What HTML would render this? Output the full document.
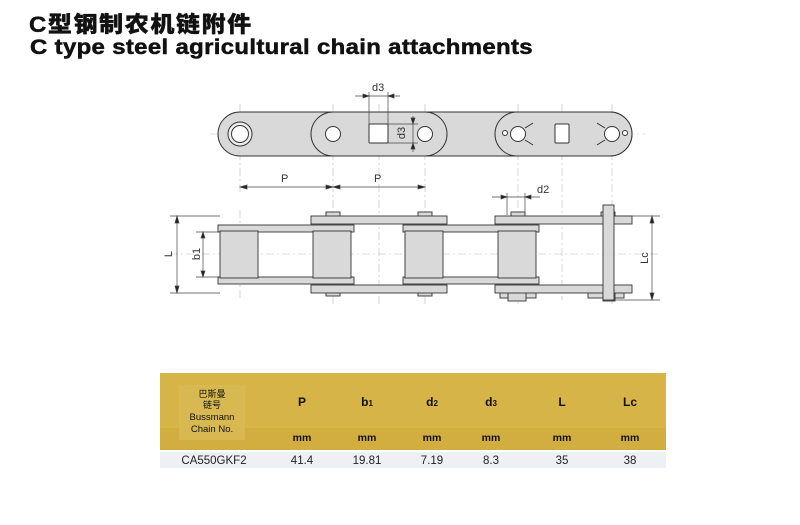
<!DOCTYPE html>
<html><head><meta charset="utf-8"><style>
body{margin:0;background:#fff;width:800px;height:525px;overflow:hidden;position:relative;font-family:"Liberation Sans","Noto Sans CJK SC",sans-serif}
.t1{position:absolute;left:29px;top:6px;font-size:24px;font-weight:900;color:#111;letter-spacing:1.6px;-webkit-text-stroke:0.4px #111;transform-origin:0 0;transform:scaleY(0.92)}
.t2{position:absolute;left:30px;top:36px;font-size:21px;font-weight:bold;color:#111;letter-spacing:0.3px;transform-origin:0 0;transform:scaleX(1.14);white-space:nowrap;-webkit-text-stroke:0.5px #111}
svg{position:absolute;left:0;top:0}
</style></head><body>
<div class="t1">C型钢制农机链附件</div>
<div class="t2">C type steel agricultural chain attachments</div>
<svg width="800" height="525" viewBox="0 0 800 525" font-family="Liberation Sans, sans-serif">
<g stroke="#bbb" stroke-width="0.6" stroke-dasharray="8 3 2 3" fill="none">
<line x1="210" y1="134" x2="645" y2="134"/>
<line x1="170" y1="254" x2="660" y2="254"/>
<line x1="240" y1="104" x2="240" y2="195"/><line x1="333" y1="104" x2="333" y2="305"/>
<line x1="425" y1="104" x2="425" y2="305"/><line x1="379" y1="104" x2="379" y2="305"/>
<line x1="518" y1="104" x2="518" y2="305"/><line x1="612" y1="104" x2="612" y2="305"/>
<line x1="240" y1="210" x2="240" y2="300"/><line x1="562" y1="104" x2="562" y2="300"/>
</g>
<g stroke="#333" stroke-width="1" fill="#d9d9d9">
<rect x="218" y="112" width="414" height="44" rx="22"/>
<rect x="311" y="112" width="136" height="44" rx="22"/>
<rect x="495" y="112" width="137" height="44" rx="22"/>
<circle cx="240" cy="134" r="12" fill="#eee"/><circle cx="240" cy="134" r="8.5" fill="#fff"/>
<circle cx="333" cy="134" r="7.5" fill="#fff"/><circle cx="425" cy="134" r="7.5" fill="#fff"/>
<rect x="369" y="124" width="19" height="19" fill="#fff" rx="1"/>
<rect x="555" y="124" width="14" height="19" fill="#fff" rx="1"/>
<circle cx="518" cy="134" r="7.5" fill="#fff"/><circle cx="612" cy="134" r="7.5" fill="#fff"/>
<circle cx="505" cy="133" r="2.5" fill="#fff"/><circle cx="625" cy="133" r="2.5" fill="#fff"/>
<path d="M525 128 q5 -3 8 -5 M525 140 q5 3 8 5 M605 128 q-5 -3 -8 -5 M605 140 q-5 3 -8 5" fill="none"/>
</g>
<g stroke="#444" stroke-width="0.7" fill="#222">
<line x1="369" y1="92" x2="369" y2="124"/><line x1="388" y1="92" x2="388" y2="124"/>
<line x1="355" y1="96" x2="400" y2="96"/>
<path d="M369 96 l-6 -2 v4z M388 96 l6 -2 v4z"/>
<line x1="388" y1="124" x2="418" y2="124"/><line x1="388" y1="143" x2="418" y2="143"/>
<line x1="413" y1="116" x2="413" y2="152"/>
<path d="M413 124 l-2 -6 h4z M413 143 l-2 6 h4z"/>
<line x1="240" y1="187" x2="425" y2="187"/>
<path d="M240 187 l7 -2 v4z M333 187 l-7 -2 v4z M333 187 l7 -2 v4z M425 187 l-7 -2 v4z"/>
<line x1="507" y1="193" x2="507" y2="215"/><line x1="525" y1="193" x2="525" y2="215"/>
<line x1="492" y1="197" x2="540" y2="197"/>
<path d="M507 197 l-6 -2 v4z M525 197 l6 -2 v4z"/>
<line x1="170" y1="216" x2="220" y2="216"/><line x1="170" y1="293" x2="220" y2="293"/>
<line x1="177" y1="216" x2="177" y2="293"/><path d="M177 216 l-2 7 h4z M177 293 l-2 -7 h4z"/>
<line x1="196" y1="232" x2="220" y2="232"/><line x1="196" y1="277" x2="220" y2="277"/>
<line x1="203" y1="232" x2="203" y2="277"/><path d="M203 232 l-2 6 h4z M203 277 l-2 -6 h4z"/>
<line x1="615" y1="216" x2="660" y2="216"/><line x1="615" y1="300" x2="660" y2="300"/>
<line x1="652" y1="216" x2="652" y2="300"/><path d="M652 216 l-2 7 h4z M652 300 l-2 -7 h4z"/>
</g>
<g font-size="11" fill="#333">
<text x="372" y="91">d3</text><text x="281" y="182">P</text><text x="374" y="182">P</text>
<text x="537" y="193">d2</text>
<text transform="translate(405,133) rotate(-90)" text-anchor="middle">d3</text>
<text transform="translate(172,254) rotate(-90)" text-anchor="middle">L</text>
<text transform="translate(200,254) rotate(-90)" text-anchor="middle">b1</text>
<text transform="translate(648,258) rotate(-90)" text-anchor="middle">Lc</text>
</g>
<g stroke="#333" stroke-width="0.9" fill="#d9d9d9">
<rect x="326" y="212" width="14" height="5"/><rect x="418" y="212" width="14" height="5"/><rect x="511" y="212" width="14" height="5"/><rect x="601" y="212" width="14" height="5"/>
<rect x="326" y="291" width="14" height="5"/><rect x="418" y="291" width="14" height="5"/>
<rect x="500" y="291" width="36" height="7"/><rect x="508" y="291" width="18" height="10"/>
<rect x="588" y="291" width="36" height="7"/><rect x="603" y="291" width="12" height="10"/>
<rect x="311" y="216" width="136" height="8"/><rect x="495" y="216" width="137" height="8"/>
<rect x="311" y="285" width="136" height="8"/><rect x="495" y="285" width="137" height="8"/>
<rect x="218" y="225" width="136" height="7"/><rect x="403" y="225" width="136" height="7"/>
<rect x="218" y="277" width="136" height="7"/><rect x="403" y="277" width="136" height="7"/>
<rect x="220" y="231" width="38" height="47"/><rect x="313" y="231" width="38" height="47"/>
<rect x="405" y="231" width="38" height="47"/><rect x="498" y="231" width="38" height="47"/>
<rect x="603" y="205" width="11" height="95"/>
</g>
<rect x="160" y="373" width="506" height="77" fill="#d2ad40"/>
<rect x="160" y="373" width="506" height="55" fill="#d6b448"/>
<rect x="179" y="385" width="66" height="55" fill="#d8b850"/>
<rect x="160" y="452" width="506" height="16" fill="#eef0f3"/>
<g font-size="12" fill="#111" text-anchor="middle" font-weight="bold">
<text x="212" y="397" font-size="9" font-weight="normal">巴斯曼</text><text x="212" y="408" font-size="9" font-weight="normal">链号</text>
<text x="212" y="420" font-size="9.5" font-weight="normal">Bussmann</text><text x="212" y="432" font-size="9.5" font-weight="normal">Chain No.</text>
<text x="302" y="406">P</text><text x="367" y="406">b<tspan font-size="8">1</tspan></text>
<text x="432" y="406">d<tspan font-size="8">2</tspan></text><text x="491" y="406">d<tspan font-size="8">3</tspan></text>
<text x="562" y="406">L</text><text x="630" y="406">Lc</text>
<g font-size="10.5"><text x="302" y="441">mm</text><text x="367" y="441">mm</text><text x="432" y="441">mm</text><text x="491" y="441">mm</text><text x="562" y="441">mm</text><text x="630" y="441">mm</text></g>
<g font-size="11.5" fill="#222" font-weight="normal"><text x="214" y="464">CA550GKF2</text><text x="302" y="464">41.4</text><text x="367" y="464">19.81</text><text x="432" y="464">7.19</text><text x="491" y="464">8.3</text><text x="562" y="464">35</text><text x="630" y="464">38</text></g>
</g>
</svg>
</body></html>
